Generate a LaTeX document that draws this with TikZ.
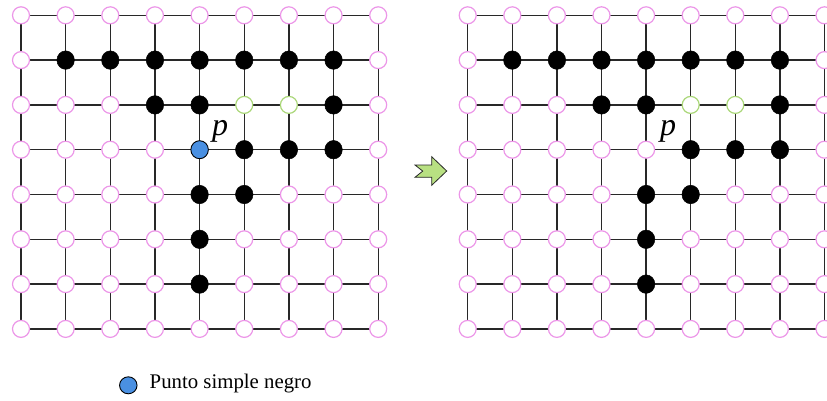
\documentclass[tikz,border=0pt]{standalone}
\usepackage{fontspec}
\setmainfont{Liberation Serif}
\usetikzlibrary{shapes.geometric,backgrounds}
\definecolor{pinkc}{RGB}{236,150,232}
\definecolor{greenc}{RGB}{170,215,120}
\definecolor{bluec}{RGB}{74,144,226}
\definecolor{arrowc}{RGB}{184,224,130}
\definecolor{gridc}{RGB}{40,40,40}
\tikzset{
  cell/.style={circle, minimum size=17pt, inner sep=0pt, draw=pinkc, fill=white, line width=1.2pt},
  blk/.style={ellipse, minimum width=17.5pt, minimum height=18.5pt, draw=black, fill=black, line width=0.5pt},
  grn/.style={draw=greenc},
  blu/.style={ellipse, minimum width=17.5pt, minimum height=18pt, fill=bluec, draw=black, line width=0.9pt},
  gridline/.style={draw=gridc, line width=1.3pt},
  plabel/.style={inner sep=0pt, anchor=base, font=\fontsize{32}{32}\selectfont\itshape},
  legtext/.style={inner sep=0pt, anchor=base west, font=\fontsize{20.8}{24}\selectfont},
  % left grid states
  sL-1-1/.style=blk, sL-1-2/.style=blk, sL-1-3/.style=blk, sL-1-4/.style=blk,
  sL-1-5/.style=blk, sL-1-6/.style=blk, sL-1-7/.style=blk,
  sL-2-3/.style=blk, sL-2-4/.style=blk, sL-2-5/.style=grn, sL-2-6/.style=grn, sL-2-7/.style=blk,
  sL-3-4/.style=blu, sL-3-5/.style=blk, sL-3-6/.style=blk, sL-3-7/.style=blk,
  sL-4-4/.style=blk, sL-4-5/.style=blk,
  sL-5-4/.style=blk, sL-6-4/.style=blk,
  % right grid states
  sR-1-1/.style=blk, sR-1-2/.style=blk, sR-1-3/.style=blk, sR-1-4/.style=blk,
  sR-1-5/.style=blk, sR-1-6/.style=blk, sR-1-7/.style=blk,
  sR-2-3/.style=blk, sR-2-4/.style=blk, sR-2-5/.style=grn, sR-2-6/.style=grn, sR-2-7/.style=blk,
  sR-3-5/.style=blk, sR-3-6/.style=blk, sR-3-7/.style=blk,
  sR-4-4/.style=blk, sR-4-5/.style=blk,
  sR-5-4/.style=blk, sR-6-4/.style=blk,
}
\begin{document}
\begin{tikzpicture}[x=1pt, y=-1pt]
\useasboundingbox (0,0) rectangle (827,400);
% nodes
\foreach \r in {0,...,7} {
  \foreach \c in {0,...,8} {
    \node[cell, sL-\r-\c/.try] (L-\r-\c) at ({21+\c*44.65},{15.3+\r*44.8}) {};
    \node[cell, sR-\r-\c/.try] (R-\r-\c) at ({467.7+\c*44.6},{15.3+\r*44.8}) {};
  }
}
% grid edges
\begin{scope}[on background layer]
\foreach \g in {L,R} {
  \foreach \r in {0,...,7} {
    \foreach \c [evaluate=\c as \cn using int(\c+1)] in {0,...,7} {
      \draw[gridline] (\g-\r-\c.center) -- (\g-\r-\cn.center);
    }
  }
  \foreach \c in {0,...,8} {
    \foreach \r [evaluate=\r as \rn using int(\r+1)] in {0,...,6} {
      \draw[gridline] (\g-\r-\c.center) -- (\g-\rn-\c.center);
    }
  }
}
\end{scope}
% labels p
\node[plabel] (pL) at (220,135) {p};
\node[plabel] (pR) at (668,135) {p};
% transition arrow
\draw[fill=arrowc, draw=gridc, line width=0.8pt, line join=miter]
  (415,165) -- (431.7,165) -- (431.7,156.7) -- (446.7,171) -- (431.7,185.3)
  -- (431.7,177.3) -- (415,177.3) -- (422.7,171.1) -- cycle;
% legend
\node[blu, minimum width=17.5pt, minimum height=17pt] (legdot) at (128.3,385.3) {};
\node[legtext] (legtxt) at (149.5,388.3) {Punto simple negro};
\end{tikzpicture}
\end{document}
